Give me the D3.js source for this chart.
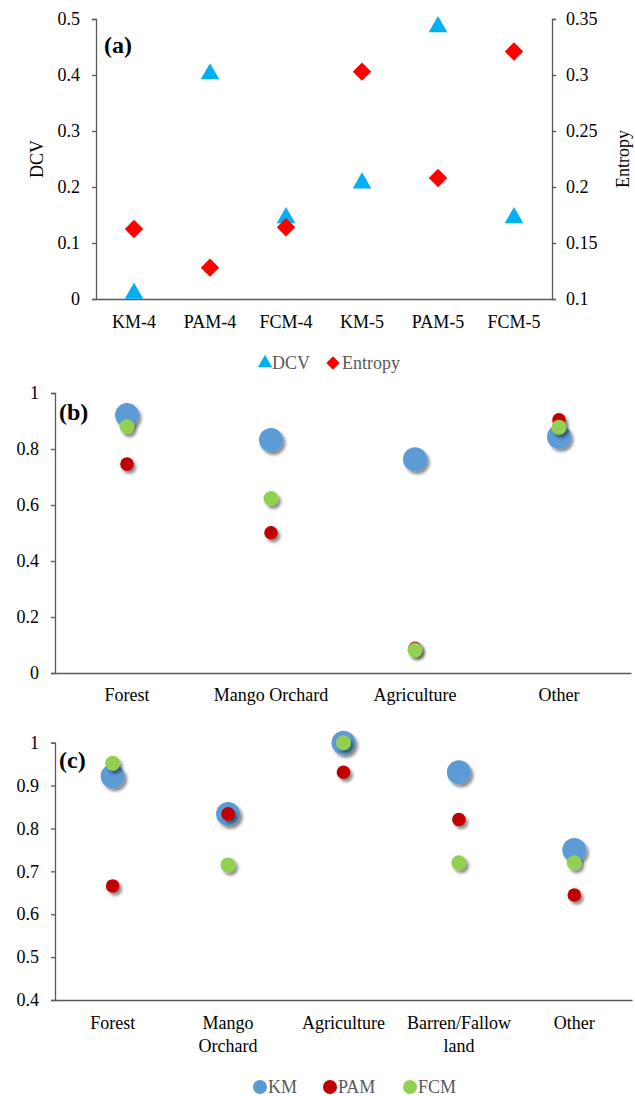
<!DOCTYPE html>
<html lang="en">
<head>
  <meta charset="UTF-8">
  <title>Cluster validity and class accuracy</title>
  <style>
    body { margin: 0; background: #fff; }
    text { font-family: "Liberation Serif", "Times New Roman", serif; }
  </style>
</head>
<body>
  <script src="https://d3js.org/d3.v7.min.js"></script>
  <script>
    // panel (a)
    const methodsA = ["KM-4", "PAM-4", "FCM-4", "KM-5", "PAM-5", "FCM-5"];
    const dcv = [0.01, 0.402, 0.145, 0.207, 0.486, 0.145];
    const entropy = [0.1625, 0.128, 0.164, 0.303, 0.208, 0.321];
    const dcvTicks = [0, 0.1, 0.2, 0.3, 0.4, 0.5];
    const entropyTicks = [0.1, 0.15, 0.2, 0.25, 0.3, 0.35];

    // panel (b)
    const classesB = ["Forest", "Mango Orchard", "Agriculture", "Other"];
    const kmB = [0.921, 0.832, 0.763, 0.844];
    const pamB = [0.746, 0.501, 0.088, 0.904];
    const fcmB = [0.88, 0.623, 0.082, 0.878];
    const ticksB = [0, 0.2, 0.4, 0.6, 0.8, 1];

    // panel (c)
    const classesC = ["Forest", "Mango Orchard", "Agriculture", "Barren/Fallow land", "Other"];
    const labelLinesC = [["Forest"], ["Mango", "Orchard"], ["Agriculture"], ["Barren/Fallow", "land"], ["Other"]];
    const kmC = [0.922, 0.834, 1.0, 0.931, 0.75];
    const pamC = [0.666, 0.834, 0.931, 0.821, 0.645];
    const fcmC = [0.952, 0.715, 1.0, 0.72, 0.72];
    const ticksC = [0.4, 0.5, 0.6, 0.7, 0.8, 0.9, 1];

    const W = 635, H = 1096;
    const axisColor = "#595959";
    const fs = 18;

    const svg = d3.select("body").append("svg")
      .attr("width", W).attr("height", H);

    const defs = svg.append("defs");
    defs.append("filter").attr("id", "shadow")
      .attr("x", "-50%").attr("y", "-50%").attr("width", "200%").attr("height", "200%")
      .append("feDropShadow")
      .attr("dx", 2.5).attr("dy", 3).attr("stdDeviation", 1.8)
      .attr("flood-color", "#000").attr("flood-opacity", 0.45);

    function styleAxis(g) {
      g.select(".domain").attr("stroke", axisColor).attr("stroke-width", 1.3);
      g.selectAll(".tick line").attr("stroke", axisColor).attr("stroke-width", 1.3);
      g.selectAll(".tick text").attr("font-size", fs).attr("fill", "#000")
        .attr("font-family", "Liberation Serif");
    }

    // ---------- (a) ----------
    {
      const left = 96, right = 552, top = 19, bottom = 299;
      const x = d3.scaleBand().domain(methodsA).range([left, right]);
      const yL = d3.scaleLinear().domain([0, 0.5]).range([bottom, top]);
      const yR = d3.scaleLinear().domain([0.1, 0.35]).range([bottom, top]);
      const g = svg.append("g");

      g.append("g").attr("transform", `translate(${left},0)`)
        .call(d3.axisLeft(yL).tickValues(dcvTicks).tickSize(4).tickPadding(12).tickFormat(d3.format("")))
        .call(styleAxis);
      g.append("g").attr("transform", `translate(${right},0)`)
        .call(d3.axisRight(yR).tickValues(entropyTicks).tickSize(4).tickPadding(10).tickFormat(d3.format("")))
        .call(styleAxis);
      g.append("g").attr("transform", `translate(0,${bottom})`)
        .call(d3.axisBottom(x).tickSize(0).tickPadding(16))
        .call(styleAxis);

      g.append("text").attr("transform", `translate(37,${(top + bottom) / 2}) rotate(-90)`)
        .attr("text-anchor", "middle").attr("dy", "0.35em").attr("font-size", fs).text("DCV");
      g.append("text").attr("transform", `translate(623,${(top + bottom) / 2}) rotate(-90)`)
        .attr("text-anchor", "middle").attr("dy", "0.35em").attr("font-size", fs).text("Entropy");
      g.append("text").attr("x", 104).attr("y", 53).attr("font-size", 24)
        .attr("font-weight", "bold").text("(a)");

      const tri = d3.symbol().type(d3.symbolTriangle).size(150);
      const dia = d3.symbol().type(d3.symbolSquare).size(170);

      g.selectAll(".dcv").data(methodsA).join("path")
        .attr("d", tri)
        .attr("transform", (d, i) => `translate(${x(d) + x.bandwidth() / 2},${yL(dcv[i])})`)
        .attr("fill", "#00B0F0");
      g.selectAll(".ent").data(methodsA).join("path")
        .attr("class", "ent")
        .attr("d", dia)
        .attr("transform", (d, i) => `translate(${x(d) + x.bandwidth() / 2},${yR(entropy[i])}) rotate(45)`)
        .attr("fill", "#FF0000");

      // legend
      const lg = g.append("g").attr("transform", "translate(0,363)");
      lg.append("path").attr("d", d3.symbol().type(d3.symbolTriangle).size(90))
        .attr("transform", "translate(265,0)").attr("fill", "#00B0F0");
      lg.append("text").attr("x", 272).attr("dy", "0.35em").attr("font-size", fs)
        .attr("fill", "#595959").text("DCV");
      lg.append("path").attr("d", d3.symbol().type(d3.symbolSquare).size(90))
        .attr("transform", "translate(333,0) rotate(45)").attr("fill", "#FF0000");
      lg.append("text").attr("x", 342).attr("dy", "0.35em").attr("font-size", fs)
        .attr("fill", "#595959").text("Entropy");
    }

    const series = [
      { name: "KM", color: "#5B9BD5", r: 12 },
      { name: "PAM", color: "#C00000", r: 6.8 },
      { name: "FCM", color: "#92D050", r: 7.5 }
    ];

    // ---------- (b) ----------
    {
      const left = 55, right = 631, top = 393, bottom = 673;
      const x = d3.scaleBand().domain(classesB).range([left, right]);
      const y = d3.scaleLinear().domain([0, 1]).range([bottom, top]);
      const g = svg.append("g");

      g.append("g").attr("transform", `translate(${left},0)`)
        .call(d3.axisLeft(y).tickValues(ticksB).tickSize(4).tickPadding(12).tickFormat(d3.format("")))
        .call(styleAxis);
      g.append("g").attr("transform", `translate(0,${bottom})`)
        .call(d3.axisBottom(x).tickSize(0).tickPadding(15))
        .call(styleAxis);
      g.append("text").attr("x", 59).attr("y", 420).attr("font-size", 24)
        .attr("font-weight", "bold").text("(b)");

      const vals = [kmB, pamB, fcmB];
      series.forEach((s, k) => {
        g.selectAll(null).data(classesB).join("circle")
          .attr("cx", d => x(d) + x.bandwidth() / 2)
          .attr("cy", (d, i) => y(vals[k][i]))
          .attr("r", s.r)
          .attr("fill", s.color)
          .attr("filter", "url(#shadow)");
      });
    }

    // ---------- (c) ----------
    {
      const left = 55, right = 632, top = 742.7, bottom = 1000;
      const x = d3.scaleBand().domain(classesC).range([left, right]);
      const y = d3.scaleLinear().domain([0.4, 1]).range([bottom, top]);
      const g = svg.append("g");

      g.append("g").attr("transform", `translate(${left},0)`)
        .call(d3.axisLeft(y).tickValues(ticksC).tickSize(4).tickPadding(12).tickFormat(d3.format("")))
        .call(styleAxis);
      g.append("g").attr("transform", `translate(0,${bottom})`)
        .call(d3.axisBottom(x).tickSize(0).tickFormat(""))
        .call(styleAxis);
      classesC.forEach((c, i) => {
        const t = g.append("text").attr("text-anchor", "middle").attr("font-size", fs)
          .attr("x", x(c) + x.bandwidth() / 2).attr("y", 1029);
        labelLinesC[i].forEach((line, j) => {
          t.append("tspan").attr("x", x(c) + x.bandwidth() / 2).attr("dy", j ? 22.5 : 0).text(line);
        });
      });
      g.append("text").attr("x", 59).attr("y", 768).attr("font-size", 24)
        .attr("font-weight", "bold").text("(c)");

      const vals = [kmC, pamC, fcmC];
      series.forEach((s, k) => {
        g.selectAll(null).data(classesC).join("circle")
          .attr("cx", d => x(d) + x.bandwidth() / 2)
          .attr("cy", (d, i) => y(vals[k][i]))
          .attr("r", s.r)
          .attr("fill", s.color)
          .attr("filter", "url(#shadow)");
      });

      // legend
      const lx = [260, 330, 410];
      const lg = g.append("g").attr("transform", "translate(0,1087)");
      series.forEach((s, k) => {
        lg.append("circle").attr("cx", lx[k]).attr("r", 7).attr("fill", s.color);
        lg.append("text").attr("x", lx[k] + 8).attr("dy", "0.35em").attr("font-size", fs)
          .attr("fill", "#595959").text(s.name);
      });
    }
  </script>
</body>
</html>
